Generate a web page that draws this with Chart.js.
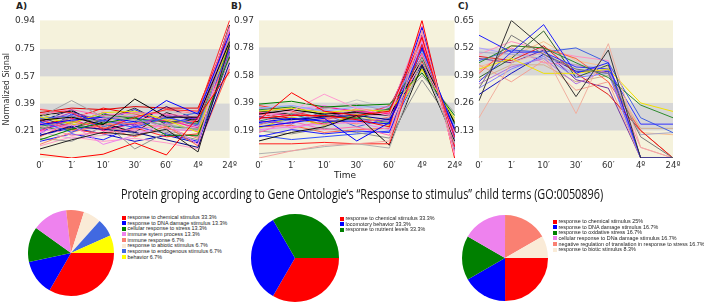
<!DOCTYPE html>
<html>
<head>
<meta charset="utf-8">
<script src="https://cdn.jsdelivr.net/npm/chart.js@4/dist/chart.umd.min.js"></script>
<style>
body{margin:0;background:#fff;width:704px;height:305px;position:relative;overflow:hidden}
canvas{position:absolute}
.tag{position:absolute;font:bold 9px "DejaVu Sans";color:#222}
#time{position:absolute;left:325px;top:170px;width:40px;text-align:center;font:9px "DejaVu Sans";color:#222}
#title{position:absolute;left:10px;top:184px;width:704px;text-align:center;font:14px "Open Sans";color:#111;white-space:nowrap}
#title span{display:inline-block;transform-origin:center}
.legend{position:absolute;font:5.4px "Liberation Sans";color:#222;line-height:5.65px;white-space:nowrap}
.legend i{display:inline-block;width:4px;height:4px;margin-right:1.5px;vertical-align:-0.5px}
</style>
</head>
<body>
<div class="tag" style="left:16px;top:1px">A)</div>
<div class="tag" style="left:231px;top:1px">B)</div>
<div class="tag" style="left:458px;top:1px">C)</div>

<canvas id="chartA" width="240" height="162" style="left:0;top:10px"></canvas>
<canvas id="chartB" width="240" height="162" style="left:225px;top:10px"></canvas>
<canvas id="chartC" width="235" height="162" style="left:450px;top:10px"></canvas>

<div id="time">Time</div>
<div id="title"><span id="titleText">Protein groping according to Gene Ontologie’s “Response to stimulus” child terms (GO:0050896)</span></div>

<canvas id="pieA" width="86" height="86" style="left:28px;top:210px"></canvas>
<canvas id="pieB" width="88" height="88" style="left:251px;top:214px"></canvas>
<canvas id="pieC" width="86" height="86" style="left:462px;top:215px"></canvas>
<div class="legend" id="legA" style="left:122px;top:215px"></div>
<div class="legend" id="legB" style="left:340px;top:216px"></div>
<div class="legend" id="legC" style="left:553px;top:219px"></div>

<script>
const times = ['0′', '1′', '10′', '30′', '60′', '4º', '24º'];

const ticksA = [0.21, 0.39, 0.57, 0.75, 0.94];
const ticksB = [0.19, 0.39, 0.58, 0.78, 0.97];
const ticksC = [0.13, 0.26, 0.39, 0.52, 0.65];

// A) profiles rising at 24º
const seriesA = [
    [0.055, 0.03, 0.055, 0.13, 0.05, 0.30, 0.60],
    [0.28, 0.30, 0.25, 0.42, 0.30, 0.30, 0.80],
    [0.30, 0.41, 0.30, 0.28, 0.25, 0.22, 0.82],
    [0.25, 0.28, 0.30, 0.27, 0.41, 0.32, 0.85],
    [0.09, 0.15, 0.20, 0.18, 0.22, 0.07, 0.78],
    [0.35, 0.33, 0.22, 0.30, 0.35, 0.34, 0.94],
    [0.20, 0.25, 0.12, 0.18, 0.26, 0.12, 0.88],
    [0.32, 0.35, 0.31, 0.33, 0.32, 0.30, 0.90],
    [0.15, 0.22, 0.26, 0.30, 0.18, 0.18, 0.70],
    [0.27, 0.20, 0.28, 0.23, 0.30, 0.25, 0.75],
    [0.22, 0.30, 0.27, 0.09, 0.20, 0.15, 0.72],
    [0.33, 0.36, 0.35, 0.37, 0.36, 0.36, 0.86],
    [0.18, 0.24, 0.22, 0.20, 0.15, 0.10, 0.66],
    [0.30, 0.26, 0.33, 0.34, 0.28, 0.20, 0.80],
    [0.24, 0.18, 0.20, 0.22, 0.25, 0.28, 0.83],
    [0.12, 0.20, 0.25, 0.26, 0.23, 0.16, 0.76],
    [0.26, 0.33, 0.28, 0.25, 0.31, 0.29, 0.79],
    [0.20, 0.16, 0.18, 0.21, 0.20, 0.24, 0.68],
    [0.29, 0.31, 0.24, 0.27, 0.29, 0.33, 0.87],
    [0.17, 0.27, 0.23, 0.17, 0.24, 0.11, 0.62],
    [0.34, 0.28, 0.30, 0.32, 0.34, 0.31, 0.84],
    [0.23, 0.22, 0.32, 0.29, 0.27, 0.26, 0.77],
    [0.14, 0.19, 0.15, 0.24, 0.19, 0.14, 0.73],
    [0.31, 0.34, 0.26, 0.20, 0.33, 0.27, 0.91],
    [0.26, 0.24, 0.29, 0.31, 0.22, 0.21, 0.81],
    [0.21, 0.29, 0.21, 0.26, 0.28, 0.23, 0.74],
    [0.28, 0.22, 0.19, 0.23, 0.17, 0.19, 0.69],
    [0.19, 0.32, 0.27, 0.35, 0.26, 0.30, 0.85],
    [0.36, 0.30, 0.34, 0.28, 0.31, 0.35, 0.89],
    [0.16, 0.14, 0.24, 0.19, 0.21, 0.17, 0.71],
    [0.24, 0.27, 0.31, 0.30, 0.24, 0.22, 0.78],
    [0.27, 0.35, 0.22, 0.26, 0.37, 0.28, 0.82],
    [0.11, 0.17, 0.14, 0.16, 0.13, 0.09, 0.64],
    [0.32, 0.25, 0.27, 0.33, 0.29, 0.25, 0.80],
    [0.22, 0.26, 0.33, 0.24, 0.30, 0.24, 0.76],
    [0.29, 0.21, 0.25, 0.29, 0.35, 0.32, 0.88],
    [0.18, 0.23, 0.19, 0.14, 0.18, 0.13, 0.70],
    [0.25, 0.29, 0.36, 0.32, 0.27, 0.27, 0.83],
    [0.20, 0.31, 0.23, 0.21, 0.32, 0.20, 0.79],
    [0.30, 0.23, 0.28, 0.36, 0.25, 0.29, 0.86]
];

// B) profiles peaking at 4º
const seriesB = [
    [0.00, 0.05, 0.09, 0.10, 0.12, 0.90, 0.05],
    [0.03, 0.05, 0.08, 0.10, 0.07, 0.70, 0.10],
    [0.10, 0.10, 0.11, 0.10, 0.10, 0.80, 0.15],
    [0.12, 0.18, 0.22, 0.30, 0.09, 0.65, 0.12],
    [0.27, 0.46, 0.33, 0.30, 0.33, 0.85, 0.08],
    [0.30, 0.33, 0.45, 0.35, 0.30, 0.88, 0.02],
    [0.22, 0.25, 0.28, 0.12, 0.25, 0.78, 0.20],
    [0.38, 0.40, 0.36, 0.37, 0.38, 0.60, 0.30],
    [0.33, 0.35, 0.32, 0.34, 0.33, 0.62, 0.28],
    [0.35, 0.37, 0.33, 0.36, 0.36, 0.75, 0.22],
    [0.28, 0.30, 0.30, 0.27, 0.22, 0.97, 0.00],
    [0.25, 0.28, 0.26, 0.26, 0.24, 0.92, 0.05],
    [0.31, 0.34, 0.31, 0.32, 0.30, 0.69, 0.25],
    [0.20, 0.22, 0.24, 0.25, 0.20, 0.82, 0.12],
    [0.36, 0.31, 0.35, 0.38, 0.33, 0.58, 0.32],
    [0.18, 0.26, 0.20, 0.22, 0.16, 0.73, 0.18],
    [0.29, 0.27, 0.29, 0.30, 0.27, 0.66, 0.21],
    [0.23, 0.32, 0.27, 0.24, 0.29, 0.84, 0.10],
    [0.34, 0.36, 0.30, 0.28, 0.35, 0.71, 0.24],
    [0.26, 0.24, 0.33, 0.27, 0.26, 0.79, 0.14],
    [0.15, 0.20, 0.17, 0.19, 0.18, 0.77, 0.16],
    [0.32, 0.30, 0.36, 0.33, 0.31, 0.86, 0.08],
    [0.21, 0.29, 0.23, 0.31, 0.23, 0.63, 0.26],
    [0.37, 0.33, 0.28, 0.29, 0.37, 0.74, 0.19],
    [0.24, 0.27, 0.31, 0.22, 0.28, 0.81, 0.11],
    [0.30, 0.21, 0.26, 0.35, 0.32, 0.93, 0.03],
    [0.19, 0.17, 0.21, 0.18, 0.14, 0.55, 0.22],
    [0.33, 0.31, 0.29, 0.33, 0.34, 0.87, 0.06],
    [0.27, 0.35, 0.34, 0.30, 0.30, 0.72, 0.17],
    [0.22, 0.23, 0.18, 0.20, 0.21, 0.68, 0.20],
    [0.35, 0.34, 0.37, 0.31, 0.36, 0.83, 0.09],
    [0.26, 0.31, 0.25, 0.28, 0.25, 0.76, 0.13],
    [0.16, 0.13, 0.15, 0.17, 0.19, 0.64, 0.23],
    [0.29, 0.37, 0.32, 0.26, 0.28, 0.89, 0.04],
    [0.31, 0.28, 0.24, 0.29, 0.32, 0.80, 0.15],
    [0.38, 0.36, 0.34, 0.41, 0.35, 0.60, 0.27]
];

// C) profiles dropping at 4º
const seriesC = [
    [0.27, 0.65, 0.52, 0.29, 0.51, 0.00, 0.00],
    [0.33, 0.58, 0.49, 0.42, 0.40, 0.10, 0.00],
    [0.58, 0.50, 0.63, 0.40, 0.45, 0.00, 0.00],
    [0.19, 0.45, 0.50, 0.21, 0.54, 0.05, 0.00],
    [0.45, 0.53, 0.52, 0.45, 0.38, 0.25, 0.19],
    [0.42, 0.47, 0.40, 0.40, 0.42, 0.26, 0.22],
    [0.36, 0.50, 0.50, 0.43, 0.42, 0.16, 0.16],
    [0.33, 0.42, 0.48, 0.38, 0.40, 0.00, 0.00],
    [0.48, 0.46, 0.53, 0.40, 0.30, 0.13, 0.00],
    [0.40, 0.53, 0.52, 0.47, 0.36, 0.13, 0.00],
    [0.46, 0.51, 0.50, 0.52, 0.45, 0.19, 0.12],
    [0.50, 0.49, 0.47, 0.44, 0.42, 0.11, 0.12],
    [0.35, 0.43, 0.47, 0.35, 0.42, 0.00, 0.00],
    [0.44, 0.36, 0.46, 0.32, 0.36, 0.00, 0.00],
    [0.38, 0.47, 0.60, 0.38, 0.44, 0.00, 0.00],
    [0.41, 0.52, 0.45, 0.44, 0.40, 0.05, 0.00],
    [0.47, 0.45, 0.51, 0.37, 0.33, 0.00, 0.00],
    [0.30, 0.40, 0.49, 0.41, 0.41, 0.00, 0.00],
    [0.43, 0.48, 0.55, 0.46, 0.43, 0.12, 0.11],
    [0.49, 0.55, 0.51, 0.48, 0.46, 0.00, 0.00],
    [0.37, 0.44, 0.44, 0.36, 0.39, 0.14, 0.14],
    [0.52, 0.49, 0.49, 0.39, 0.41, 0.00, 0.00]
];

const lineColors = ['#ff0000', '#000000', '#a0a0a0', '#0000ff', '#222222', '#ff2a2a', '#ee82ee',
    '#ff69b4', '#008000', '#3050ff', '#909090', '#e00000', '#00008b', '#e6e600', '#ff82b4',
    '#fa8072', '#9932cc', '#dda0dd', '#4169e1', '#ff6347', '#c0c0c0', '#228b22', '#1e1eff',
    '#111111', '#da70d6', '#ff1493', '#ff3030', '#2020ff', '#ffb6c1', '#999999', '#2e8b57',
    '#000080', '#ff99cc', '#d4d400', '#8a2be2', '#f08080', '#0000cd', '#ff0000', '#ff69b4',
    '#333333'];
const lineColorsB = ['#f4a0a0', '#b0b0b0', '#ff2020', '#111111', '#ff0000', '#ff9ad2', '#0000ff',
    '#008000', '#e6e600', '#87a8ff', '#ff0000', '#0000ff', '#000000', '#ee82ee', '#a0a0a0',
    '#ff69b4', '#00008b', '#fa8072', '#228b22', '#9932cc', '#1e1eff', '#ff1493', '#d4d400',
    '#ff3030', '#4169e1', '#ff69b4', '#909090', '#222222', '#dda0dd', '#ff6347', '#ee82ee',
    '#2e8b57', '#3050ff', '#ffb6c1', '#e00000', '#c8c8c8'];
const lineColorsC = ['#333333', '#777777', '#2020ff', '#f0b0a0', '#2e8b2e', '#f0e000', '#3030ff',
    '#8080ff', '#e02020', '#ff6040', '#4060e0', '#a8a8c8', '#b070e0', '#f4a090', '#306030',
    '#ff80b0', '#7030a0', '#1010c0', '#f8c090', '#ff90c0', '#d0b090', '#b0a0ff'];

const pieALabels = ['response to chemical stimulus 33.3%', 'response to DNA damage stimulus 13.3%',
    'cellular response to stress 13.3%', 'immune sytem process 13.3%', 'immune response 6.7%',
    'response to abiotic stimulus 6.7%', 'response to endogenous stimulus 6.7%', 'behavior 6.7%'];
const pieAValues = [33.3, 13.3, 13.3, 13.3, 6.7, 6.7, 6.7, 6.7];
const pieAColors = ['#ff0000', '#0000ff', '#008000', '#ee82ee', '#fa8072', '#faebd7', '#4169e1', '#ffff00'];

const pieBLabels = ['response to chemical stimulus 33.3%', 'locomotory behavior 33.3%',
    'response to nutrient levels 33.3%'];
const pieBValues = [33.3, 33.3, 33.3];
const pieBColors = ['#ff0000', '#0000ff', '#008000'];

const pieCLabels = ['response to chemical stimulus 25%', 'response to DNA damage stimulus 16.7%',
    'response to oxidative stress 16.7%', 'cellular response to DNa damage stimulus 16.7%',
    'negative regulation of translation in response to stress 16.7%', 'response to biotic stimulus 8.3%'];
const pieCValues = [25, 16.7, 16.7, 16.7, 16.7, 8.3];
const pieCColors = ['#ff0000', '#0000ff', '#008000', '#ee82ee', '#fa8072', '#faebd7'];

// cream / grey stripes between the y ticks
const bands = {
    id: 'bands',
    beforeDatasetsDraw(chart) {
        const ctx = chart.ctx;
        const a = chart.chartArea;
        const y = chart.scales.y;
        const t = y.ticks.map(k => k.value);
        ctx.save();
        ctx.fillStyle = '#f5f2dc';
        ctx.fillRect(a.left, a.top, a.width, a.height);
        ctx.fillStyle = '#d7d7d7';
        [[0, 1], [2, 3]].forEach(([i, j]) => {
            const y1 = y.getPixelForValue(t[j]);
            const y2 = y.getPixelForValue(t[i]);
            ctx.fillRect(a.left, y1, a.width, y2 - y1);
        });
        ctx.restore();
    }
};

function lineChart(id, series, colors, yMin, yMax, ticks, axisW, padR, yTitle) {
    new Chart(document.getElementById(id), {
        type: 'line',
        data: {
            labels: times,
            datasets: series.map((s, i) => ({
                data: s,
                borderColor: colors[i % colors.length],
                borderWidth: 1,
                pointRadius: 0,
                tension: 0,
                fill: false
            }))
        },
        options: {
            responsive: false,
            animation: false,
            events: [],
            layout: { autoPadding: false, padding: { top: 7, right: padR, left: 0, bottom: 0 } },
            plugins: { legend: { display: false }, tooltip: { enabled: false } },
            scales: {
                x: {
                    offset: false,
                    grid: { display: false, drawTicks: false },
                    border: { display: false },
                    ticks: { color: '#333', font: { family: 'DejaVu Sans', size: 8.5 }, padding: 3, maxRotation: 0, autoSkip: false },
                    afterFit: s => { s.height = 14; }
                },
                y: {
                    min: yMin,
                    max: yMax,
                    grid: { display: false, drawTicks: false },
                    border: { display: false },
                    afterBuildTicks: s => { s.ticks = ticks.map(v => ({ value: v })); },
                    ticks: {
                        color: '#333',
                        font: { family: 'DejaVu Sans', size: 9 },
                        padding: 5,
                        callback: v => v.toFixed(2)
                    },
                    title: {
                        display: !!yTitle,
                        text: yTitle || '',
                        color: '#333',
                        font: { family: 'DejaVu Sans', size: 8 },
                        padding: { top: 2, bottom: 0 }
                    },
                    afterFit: s => { s.width = axisW; }
                }
            }
        },
        plugins: [bands]
    });
}

lineChart('chartA', seriesA, lineColors, 0.03, 0.94, ticksA, 40, 7, 'Normalized Signal');
lineChart('chartB', seriesB, lineColorsB, 0, 0.97, ticksB, 34, 5, '');
lineChart('chartC', seriesC, lineColorsC, 0, 0.65, ticksC, 29, 12, '');

function pieChart(id, values, colors) {
    new Chart(document.getElementById(id), {
        type: 'pie',
        data: { datasets: [{ data: values, backgroundColor: colors, borderWidth: 0, hoverOffset: 0, offset: 0 }] },
        options: {
            responsive: false,
            animation: false,
            events: [],
            rotation: 90,
            layout: { padding: 0 },
            plugins: { legend: { display: false }, tooltip: { enabled: false } }
        }
    });
}

function legend(id, labels, colors) {
    const box = document.getElementById(id);
    labels.forEach((l, i) => {
        const row = document.createElement('div');
        row.innerHTML = '<i style="background:' + colors[i] + '"></i>' + l;
        box.appendChild(row);
    });
}

pieChart('pieA', pieAValues, pieAColors);
pieChart('pieB', pieBValues, pieBColors);
pieChart('pieC', pieCValues, pieCColors);
legend('legA', pieALabels, pieAColors);
legend('legB', pieBLabels, pieBColors);
legend('legC', pieCLabels, pieCColors);

// squeeze the heading to the width it has in the figure
const tt = document.getElementById('titleText');
tt.style.transform = 'scaleX(' + (482 / tt.offsetWidth) + ')';
</script>
</body>
</html>
